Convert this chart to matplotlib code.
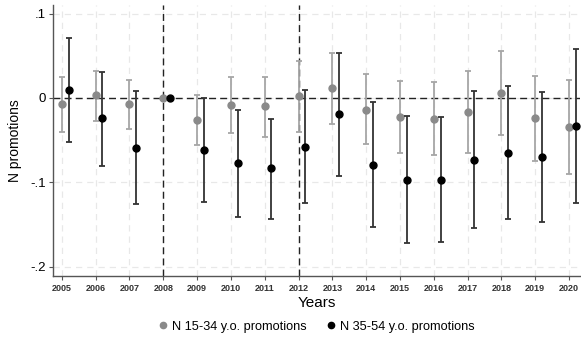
import matplotlib
matplotlib.use("Agg")
import matplotlib.pyplot as plt
import numpy as np

plt.rcParams['font.family'] = ['Liberation Sans', 'DejaVu Sans']

years = [2005, 2006, 2007, 2008, 2009, 2010, 2011, 2012, 2013, 2014, 2015, 2016, 2017, 2018, 2019, 2020]

young_est = [-0.0075, 0.003, -0.0075, 0.0, -0.026, -0.008, -0.010, 0.0024, 0.0115, -0.0138, -0.0225, -0.025, -0.016, 0.006, -0.024, -0.034]
young_lo = [-0.040, -0.027, -0.037, 0.0, -0.0556, -0.042, -0.046, -0.040, -0.031, -0.055, -0.0655, -0.068, -0.065, -0.044, -0.0746, -0.090]
young_hi = [0.0245, 0.032, 0.021, 0.0, 0.004, 0.0245, 0.025, 0.044, 0.0536, 0.028, 0.0205, 0.0186, 0.032, 0.056, 0.026, 0.0217]

old_est = [0.0095, -0.024, -0.059, 0.0, -0.061, -0.077, -0.083, -0.0576, -0.0193, -0.079, -0.097, -0.097, -0.073, -0.0647, -0.070, -0.033]
old_lo = [-0.052, -0.080, -0.1255, 0.0, -0.123, -0.141, -0.143, -0.1247, -0.092, -0.153, -0.172, -0.170, -0.154, -0.1436, -0.147, -0.1247]
old_hi = [0.071, 0.031, 0.008, 0.0, 0.0004, -0.014, -0.025, 0.010, 0.0536, -0.005, -0.021, -0.023, 0.008, 0.014, 0.007, 0.058]

event_years = [2008, 2012]
yticks = [0.1, 0.0, -0.1, -0.2]
ytick_labels = ['.1', '0', '-.1', '-.2']

x = np.array(years, dtype=float)
offset = 0.2

fig = plt.figure(figsize=(5.81, 3.37), dpi=100)
ax = fig.add_axes([0.0912, 0.182, 0.907, 0.803])

# grid
for yr in years:
    ax.axvline(yr, color='#e8e8e8', lw=0.9, ls=(0, (5, 4)), zorder=0)
for yt in yticks:
    ax.axhline(yt, color='#e8e8e8', lw=0.9, ls=(0, (5, 4)), zorder=0)

ax.axhline(0, color='#222222', lw=1.0, ls=(0, (5, 3)), zorder=1)
for ey in event_years:
    ax.axvline(ey, color='#222222', lw=1.0, ls=(0, (5, 3)), zorder=1)

ye = np.array(young_est); yl = np.array(young_lo); yh = np.array(young_hi)
oe = np.array(old_est); ol = np.array(old_lo); oh = np.array(old_hi)

ax.errorbar(x, ye, yerr=[ye - yl, yh - ye], fmt='o', color='#8a8a8a', ecolor='#a6a6a6',
            elinewidth=1.3, capsize=2.5, capthick=1.3, markersize=5, zorder=3,
            label='N 15-34 y.o. promotions')
ax.errorbar(x + offset, oe, yerr=[oe - ol, oh - oe], fmt='o', color='black', ecolor='#333333',
            elinewidth=1.3, capsize=2.5, capthick=1.3, markersize=5, zorder=4,
            label='N 35-54 y.o. promotions')

ax.set_xlim(2004.74, 2020.32)
ax.set_ylim(-0.2103, 0.110)
ax.set_yticks(yticks)
ax.set_yticklabels(ytick_labels, fontsize=9.5)
ax.set_xticks(years)
ax.set_xticklabels([str(y) for y in years], fontsize=6.5, fontweight='bold', color='#333333')
ax.tick_params(axis='y', length=3, color='#555555', pad=2)
ax.tick_params(axis='x', length=3, color='#555555', pad=3)

for s in ['top', 'right']:
    ax.spines[s].set_visible(False)
for s in ['left', 'bottom']:
    ax.spines[s].set_color('#555555')
    ax.spines[s].set_linewidth(1.0)

ax.set_ylabel('N promotions', fontsize=10, labelpad=6)
ax.set_xlabel('Years', fontsize=11, labelpad=2)

handles = [
    plt.Line2D([], [], marker='o', ls='none', color='#8a8a8a', markersize=4.5),
    plt.Line2D([], [], marker='o', ls='none', color='black', markersize=4.5),
]
fig.legend(handles, ['N 15-34 y.o. promotions', 'N 35-54 y.o. promotions'],
           loc='center', bbox_to_anchor=(0.542, 0.031), ncol=2, frameon=False,
           fontsize=9.2, handletextpad=0.1, columnspacing=1.3, handlelength=1.2)

fig.savefig('out.png', dpi=100)
